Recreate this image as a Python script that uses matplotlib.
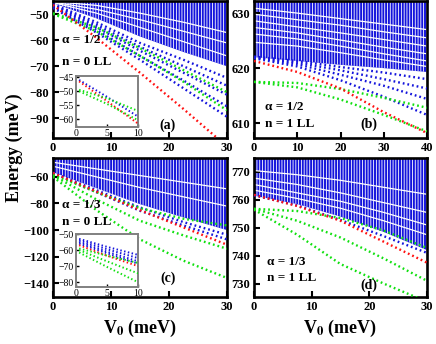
import matplotlib
matplotlib.use("Agg")
import matplotlib.pyplot as plt

plt.rcParams['font.family'] = ['Liberation Serif', 'DejaVu Serif']
plt.rcParams['font.weight'] = 'bold'
plt.rcParams['mathtext.fontset'] = 'stix'
plt.rcParams['hatch.linewidth'] = 0.6

BLUE = '#1414dc'
GREEN = '#10e010'
RED = '#ff1010'

# ---- panel (a): alpha = 1/2, n = 0 LL ----
v_a = [0, 7.5, 15, 22.5, 30]
band_a = [-45.6, -51.5, -58.5, -64.5, -70.0]
gaps_a = [[-45.2, -48.0, -52.0, -56.5, -61.0],
          [-45.0, -46.5, -49.5, -53.0, -57.0],
          [-45.4, -49.5, -55.0, -60.5, -66.0]]
blue_a = [[-46.0, -53.0, -61.0, -67.5, -74.5],
          [-46.3, -54.0, -62.5, -70.0, -77.5],
          [-46.5, -55.0, -64.0, -72.5, -81.0],
          [-47.0, -56.0, -66.0, -75.5, -85.5],
          [-47.5, -57.0, -67.5, -78.5, -89.5]]
green_a = [[-49.5, -55.0, -63.0, -71.5, -80.0],
           [-49.8, -56.5, -66.0, -76.0, -87.0]]
red_a = [-46.3, -59.0, -72.5, -86.5, -101.0]

# inset of (a)
vin_a = [0.5, 5, 10]
in_blue_a = [[-46.0, -52.0, -59.0]]
in_red_a = [-46.5, -53.5, -61.5]
in_green_a = [[-49.5, -52.5, -57.0],
              [-50.0, -54.5, -60.3]]

# ---- panel (b): alpha = 1/2, n = 1 LL ----
v_b = [0, 10, 20, 30, 40]
band_b = [622.0, 621.3, 620.6, 620.0, 619.3]
gaps_b = [[630.9, 630.0, 629.0, 628.0, 627.0],
          [629.8, 628.8, 627.8, 626.6, 625.5],
          [628.6, 627.5, 626.4, 625.2, 624.0],
          [627.4, 626.4, 625.1, 623.8, 622.6],
          [626.2, 625.3, 624.0, 622.6, 621.3],
          [624.7, 624.0, 622.8, 621.5, 620.3]]
blue_b = [[621.8, 620.3, 617.8, 614.8, 611.5],
          [621.9, 620.7, 618.8, 616.8, 614.4],
          [622.0, 621.0, 619.6, 618.0, 616.3],
          [622.1, 621.3, 620.2, 619.2, 618.0]]
green_b = [[617.5, 617.3, 616.2, 614.6, 612.8],
           [617.5, 616.5, 614.3, 611.5, 608.5]]
red_b = [621.3, 619.3, 616.3, 612.0, 608.2]

# ---- panel (c): alpha = 1/3, n = 0 LL ----
v_c = [0, 7.5, 15, 22.5, 30]
band_c = [-56.5, -68.5, -80.5, -90.5, -100.0]
gaps_c = [[-52.0, -60.0, -68.0, -75.0, -82.0],
          [-49.0, -54.0, -59.0, -64.0, -69.0]]
blue_c = [[-56.8, -70.0, -83.0, -94.0, -103.5],
          [-57.0, -71.5, -85.5, -96.5, -107.0]]
green_c = [[-58.5, -71.5, -83.5, -91.5, -96.5],
           [-59.0, -77.0, -93.0, -104.0, -114.0],
           [-60.0, -85.0, -107.0, -123.0, -136.0]]
red_c = [-57.0, -71.0, -85.0, -98.0, -111.0]

# inset of (c)
vin_c = [0.5, 5, 10]
in_blue_c = [[-53.0, -58.0, -63.0],
             [-54.0, -59.5, -65.0],
             [-55.0, -61.0, -67.0],
             [-56.0, -62.0, -68.5]]
in_red_c = [-57.0, -63.5, -70.0]
in_green_c = [[-59.0, -63.5, -68.0],
              [-60.0, -67.0, -74.5],
              [-61.5, -70.5, -80.0]]

# ---- panel (d): alpha = 1/3, n = 1 LL ----
v_d = [0, 7.5, 15, 22.5, 30]
band_d = [761.5, 758.5, 754.0, 748.5, 742.0]
gaps_d = [[770.5, 769.0, 767.0, 764.5, 762.0],
          [767.8, 765.5, 762.5, 759.0, 755.5],
          [765.5, 762.5, 759.5, 755.5, 751.0],
          [763.5, 760.5, 757.0, 752.5, 747.5]]
blue_d = [[761.6, 758.0, 752.8, 747.0, 741.0]]
green_d = [[756.8, 756.0, 753.5, 749.0, 742.8],
           [756.8, 752.5, 746.5, 739.0, 731.0],
           [756.5, 747.5, 737.0, 730.0, 723.5]]
red_d = [761.8, 757.8, 752.5, 745.0, 737.5]


def dots(ax, v, e, color, lw=1.7):
    ax.plot(v, e, color=color, lw=lw, linestyle=(0, (0.75, 1.25)),
            dash_capstyle='butt', zorder=3)


def panel(ax, v, band, gaps, blues, greens, red, xlim, ylim, xticks, yticks):
    ax.set_xlim(xlim)
    ax.set_ylim(ylim)
    top = ax.get_ylim()[1]
    ax.fill_between(v, band, top, facecolor=BLUE, edgecolor='white',
                    hatch='||||||', linewidth=0, zorder=1)
    for g in gaps:
        ax.plot(v, g, color='white', lw=0.9, zorder=2)
    for b in blues:
        dots(ax, v, b, BLUE)
    for g in greens:
        dots(ax, v, g, GREEN)
    dots(ax, v, red, RED)
    ax.set_xticks(xticks)
    ax.set_yticks(yticks)
    ax.tick_params(direction='in', length=4, width=1.5, labelsize=9, pad=3)
    for s in ax.spines.values():
        s.set_linewidth(1.9)


def inset(fig, rect, v, blues, greens, red, ylim, yticks):
    ax = fig.add_axes(rect)
    ax.set_facecolor('white')
    for b in blues:
        dots(ax, v, b, BLUE, lw=1.4)
    dots(ax, v, red, RED, lw=1.4)
    for g in greens:
        dots(ax, v, g, GREEN, lw=1.4)
    ax.set_xlim(0, 10)
    ax.set_ylim(ylim)
    ax.set_xticks([0, 5, 10])
    ax.set_yticks(yticks)
    ax.tick_params(direction='in', length=2.5, width=1, labelsize=7, pad=1.5)
    for lab in ax.get_xticklabels() + ax.get_yticklabels():
        lab.set_fontweight('normal')
    for s in ax.spines.values():
        s.set_linewidth(1.4)
        s.set_color('#808080')
    return ax


fig = plt.figure(figsize=(4.36, 3.44), dpi=100)
W, H = 436.0, 344.0
ax_a = fig.add_axes([53 / W, 1 - 138 / H, 174 / W, 137 / H])
ax_b = fig.add_axes([254 / W, 1 - 138 / H, 173 / W, 137 / H])
ax_c = fig.add_axes([53 / W, 1 - 297 / H, 174 / W, 139 / H])
ax_d = fig.add_axes([254 / W, 1 - 297 / H, 173 / W, 139 / H])

panel(ax_a, v_a, band_a, gaps_a, blue_a, green_a, red_a,
      (0, 30), (-97.7, -44.8), [0, 10, 20, 30], [-50, -60, -70, -80, -90])
panel(ax_b, v_b, band_b, gaps_b, blue_b, green_b, red_b,
      (0, 40), (607.3, 632.2), [0, 10, 20, 30, 40], [610, 620, 630])
panel(ax_c, v_c, band_c, gaps_c, blue_c, green_c, red_c,
      (0, 30), (-150.3, -45.8), [0, 10, 20, 30], [-60, -80, -100, -120, -140])
panel(ax_d, v_d, band_d, gaps_d, blue_d, green_d, red_d,
      (0, 30), (725.2, 775.0), [0, 10, 20, 30], [730, 740, 750, 760, 770])

inset(fig, [76 / W, 1 - 127 / H, 62 / W, 51 / H], vin_a, in_blue_a,
      in_green_a, in_red_a, (-62.7, -44.6), [-45, -50, -55, -60])
inset(fig, [76 / W, 1 - 287 / H, 62 / W, 53 / H], vin_c, in_blue_c,
      in_green_c, in_red_c, (-83.0, -50.0), [-50, -60, -70, -80])

labels = [(ax_a, '\u03b1 = 1/2', 'n = 0 LL', '(a)', 0.05, 0.715, 0.555, 0.66, 0.095),
          (ax_b, '\u03b1 = 1/2', 'n = 1 LL', '(b)', 0.064, 0.225, 0.10, 0.665, 0.10),
          (ax_c, '\u03b1 = 1/3', 'n = 0 LL', '(c)', 0.05, 0.66, 0.54, 0.66, 0.137),
          (ax_d, '\u03b1 = 1/3', 'n = 1 LL', '(d)', 0.075, 0.25, 0.137, 0.665, 0.086)]
for ax, t1, t2, t3, x, y1, y2, xp, yp in labels:
    ax.text(x, y1, t1, transform=ax.transAxes, fontsize=9.5, va='center', zorder=5)
    ax.text(x, y2, t2, transform=ax.transAxes, fontsize=9.5, va='center', zorder=5)
    ax.text(xp, yp, t3, transform=ax.transAxes, fontsize=10, ha='center',
            va='center', zorder=5)

fig.text(0.032, 0.57, 'Energy (meV)', rotation=90, fontsize=13,
         ha='center', va='center')
fig.text(140 / W, 1 - 328 / H, r'V$_\mathbf{0}$ (meV)', fontsize=13,
         ha='center', va='center')
fig.text(340 / W, 1 - 328 / H, r'V$_\mathbf{0}$ (meV)', fontsize=13,
         ha='center', va='center')

fig.savefig('out.png', dpi=100)
